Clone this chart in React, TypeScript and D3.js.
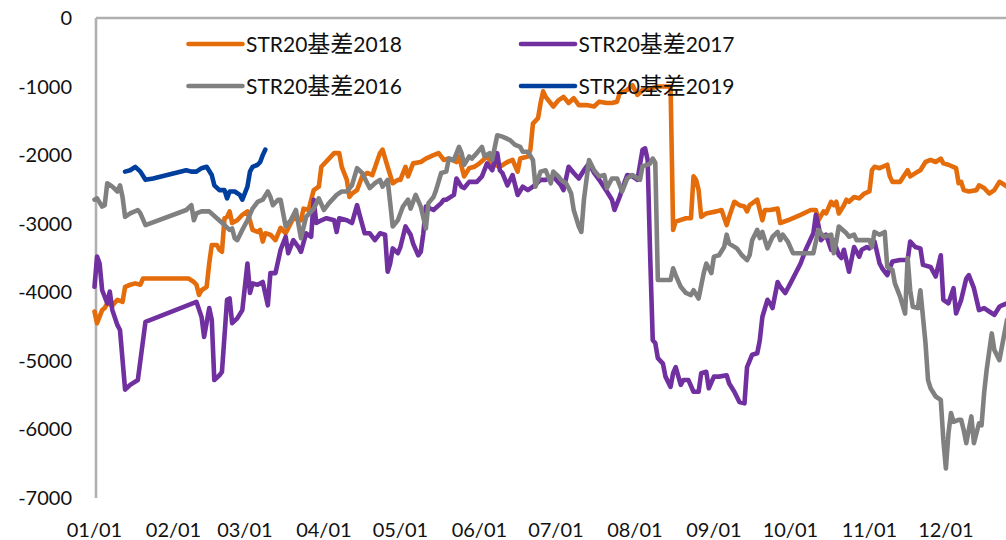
import React, { useEffect, useRef } from 'react';
import * as d3 from 'd3';

// day of year (0 = 01/01) and STR20 basis
const days2018 = [0, 1, 3, 4, 5, 7, 9, 11, 12, 14, 16, 18, 19, 37, 39, 40, 41, 42, 44, 45, 46, 48, 49, 50, 51, 52, 53, 54, 56, 58, 60, 62, 64, 65, 66, 67, 69, 71, 73, 75, 78, 81, 82, 84, 85, 86, 88, 89, 92, 94, 96, 97, 99, 100, 101, 103, 105, 107, 109, 112, 113, 115, 117, 119, 120, 122, 123, 125, 128, 130, 133, 135, 137, 139, 142, 143, 145, 147, 149, 151, 154, 156, 159, 162, 164, 166, 167, 170, 171, 172, 174, 175, 176, 177, 180, 182, 184, 186, 188, 190, 193, 196, 198, 201, 203, 205, 206, 209, 211, 213, 215, 218, 221, 224, 226, 227, 228, 232, 234, 235, 236, 237, 238, 240, 244, 246, 248, 249, 251, 253, 255, 256, 257, 260, 262, 263, 265, 268, 269, 272, 277, 281, 283, 284, 286, 287, 289, 290, 291, 292, 294, 295, 296, 298, 300, 302, 304, 305, 306, 308, 311, 312, 313, 316, 319, 320, 323, 324, 326, 328, 330, 332, 333, 335, 338, 339, 340, 341, 343, 346, 347, 349, 351, 353, 355, 356, 358];
const basis2018 = [-4280, -4450, -4260, -4230, -4160, -4190, -4110, -4140, -3920, -3890, -3870, -3890, -3800, -3800, -3850, -3890, -4040, -3970, -3920, -3580, -3310, -3310, -3380, -3410, -2920, -2900, -2820, -2990, -2950, -2870, -2820, -3090, -3120, -3090, -3260, -3140, -3160, -3240, -3060, -3140, -2920, -2950, -2780, -2800, -2650, -2510, -2460, -2170, -2050, -1970, -1970, -2170, -2360, -2610, -2560, -2510, -2310, -2260, -2290, -1970, -1920, -2170, -2410, -2360, -2360, -2170, -2310, -2120, -2100, -2050, -2000, -1970, -2070, -2050, -2100, -2020, -2310, -2190, -2170, -2120, -2020, -2120, -2170, -2100, -2070, -2240, -2050, -2020, -1920, -1540, -1460, -1240, -1070, -1150, -1290, -1200, -1150, -1240, -1170, -1270, -1270, -1290, -1220, -1240, -1240, -1220, -1100, -1050, -980, -1120, -1050, -1030, -1000, -1000, -1000, -3090, -2970, -2920, -2920, -2310, -2360, -2510, -2900, -2850, -2820, -2800, -3020, -2900, -2680, -2730, -2750, -2820, -2730, -2650, -2950, -2800, -2800, -2780, -2990, -2950, -2870, -2800, -2800, -2950, -2820, -2850, -2680, -2730, -2680, -2850, -2730, -2650, -2680, -2610, -2630, -2560, -2530, -2220, -2170, -2190, -2140, -2310, -2390, -2390, -2220, -2310, -2240, -2220, -2100, -2070, -2100, -2050, -2120, -2140, -2190, -2410, -2390, -2510, -2530, -2510, -2440, -2480, -2560, -2510, -2390, -2410, -2460];

const days2017 = [0, 1, 2, 3, 5, 6, 7, 9, 10, 12, 14, 17, 20, 40, 42, 43, 45, 46, 47, 49, 50, 52, 53, 54, 56, 58, 60, 61, 62, 64, 66, 68, 69, 71, 73, 75, 76, 78, 80, 81, 83, 85, 86, 87, 89, 91, 94, 95, 96, 99, 101, 103, 104, 106, 108, 110, 112, 114, 115, 116, 117, 119, 120, 122, 124, 125, 127, 128, 129, 130, 133, 136, 137, 138, 141, 142, 144, 145, 147, 150, 152, 154, 156, 158, 159, 160, 162, 164, 166, 168, 170, 172, 175, 177, 180, 183, 184, 186, 188, 190, 192, 194, 196, 198, 201, 203, 204, 206, 208, 209, 211, 213, 215, 216, 217, 218, 219, 220, 221, 223, 224, 226, 227, 228, 230, 231, 233, 235, 237, 238, 240, 241, 243, 245, 248, 249, 251, 253, 255, 256, 258, 260, 261, 262, 264, 265, 266, 268, 269, 271, 273, 277, 279, 282, 283, 284, 285, 287, 289, 290, 292, 293, 294, 296, 298, 300, 301, 303, 304, 306, 308, 309, 311, 313, 316, 319, 320, 322, 324, 325, 328, 330, 332, 333, 335, 337, 338, 340, 342, 343, 345, 347, 349, 351, 353, 355, 356, 358];
const basis2017 = [-3920, -3480, -3580, -3970, -4160, -3990, -4260, -4480, -4550, -5420, -5350, -5280, -4430, -4140, -4360, -4650, -4230, -4400, -5280, -5210, -5160, -4110, -4090, -4450, -4380, -4260, -3580, -4010, -3870, -3890, -3850, -4190, -3720, -3720, -3380, -3190, -3430, -3240, -3340, -3410, -3140, -3190, -2650, -2990, -2950, -2920, -2950, -3120, -2920, -2950, -2990, -2730, -2870, -3140, -3140, -3240, -3140, -3160, -3700, -3580, -3360, -3430, -3340, -3040, -3160, -3290, -3460, -3410, -3140, -2750, -2800, -2700, -2650, -2650, -2580, -2340, -2460, -2480, -2390, -2390, -2310, -2120, -2220, -1970, -2220, -2260, -2440, -2290, -2580, -2460, -2510, -2460, -2360, -2360, -2310, -2440, -2510, -2170, -2260, -2340, -2220, -2120, -2260, -2360, -2530, -2650, -2800, -2610, -2390, -2290, -2310, -2360, -1920, -1900, -2070, -3480, -4700, -4740, -4960, -5040, -5230, -5380, -5180, -5090, -5350, -5280, -5280, -5450, -5450, -5180, -5160, -5400, -5230, -5230, -5210, -5330, -5450, -5600, -5620, -5090, -4910, -4890, -4700, -4360, -4110, -4160, -4230, -3850, -3920, -4010, -3870, -3580, -3380, -3140, -2870, -3020, -3240, -3160, -3380, -3240, -3460, -3500, -3380, -3700, -3340, -3480, -3380, -3340, -3360, -3260, -3580, -3650, -3750, -3550, -3530, -3530, -3260, -3340, -3360, -3600, -3630, -3770, -3460, -4110, -4160, -3940, -4310, -4110, -3800, -3750, -3940, -4260, -4230, -4280, -4330, -4210, -4190, -4160];

const days2016 = [0, 1, 3, 4, 5, 7, 9, 10, 11, 12, 14, 17, 18, 20, 36, 38, 39, 40, 42, 45, 48, 51, 53, 54, 55, 56, 58, 60, 62, 64, 66, 68, 69, 70, 72, 73, 75, 77, 79, 81, 83, 86, 88, 90, 92, 95, 97, 99, 101, 103, 105, 107, 108, 110, 112, 113, 115, 117, 119, 121, 123, 124, 126, 128, 130, 131, 133, 134, 136, 138, 139, 141, 143, 144, 145, 147, 148, 150, 152, 153, 155, 156, 158, 160, 163, 165, 167, 168, 170, 172, 173, 175, 177, 179, 180, 182, 183, 185, 186, 187, 188, 190, 191, 192, 193, 194, 196, 198, 200, 201, 203, 205, 207, 209, 211, 214, 215, 217, 218, 219, 220, 221, 226, 227, 228, 230, 232, 234, 235, 237, 239, 240, 242, 243, 245, 247, 248, 249, 252, 254, 256, 257, 258, 260, 261, 262, 264, 266, 268, 269, 270, 272, 274, 282, 284, 286, 289, 290, 291, 292, 295, 296, 298, 299, 302, 304, 305, 306, 308, 310, 311, 313, 314, 316, 318, 319, 320, 321, 323, 324, 326, 327, 328, 330, 332, 333, 334, 335, 336, 337, 339, 340, 341, 342, 344, 345, 347, 348, 349, 350, 352, 353, 355, 356, 358];
const basis2016 = [-2650, -2630, -2750, -2730, -2410, -2460, -2530, -2440, -2610, -2900, -2850, -2800, -2850, -3020, -2800, -2730, -2950, -2850, -2820, -2820, -2920, -3020, -3090, -3070, -3210, -3240, -3090, -2950, -2780, -2680, -2650, -2530, -2610, -2730, -2650, -2650, -3040, -2950, -2800, -3210, -2900, -2780, -2630, -2800, -2700, -2580, -2530, -2530, -2440, -2190, -2260, -2410, -2480, -2410, -2360, -2460, -2360, -3040, -2950, -2750, -2650, -2780, -2580, -2750, -3070, -2700, -2610, -2510, -2260, -2240, -2050, -2070, -1880, -1970, -2140, -2020, -2050, -1970, -1880, -2020, -1970, -2070, -1710, -1730, -1780, -1850, -1880, -1950, -1950, -2070, -2460, -2240, -2220, -2410, -2240, -2310, -2360, -2410, -2480, -2560, -2800, -3040, -3120, -2650, -2360, -2070, -2220, -2310, -2290, -2480, -2340, -2340, -2530, -2340, -2290, -2360, -2160, -2140, -2120, -2050, -2110, -3820, -3820, -3650, -3750, -3920, -4010, -4040, -3970, -4090, -3720, -3580, -3720, -3480, -3460, -3340, -3160, -3290, -3360, -3460, -3530, -3460, -3240, -3090, -3210, -3120, -3360, -3190, -3120, -3240, -3160, -3260, -3430, -3430, -3090, -3190, -3160, -3430, -3260, -3040, -3140, -3190, -3160, -3240, -3240, -3240, -3340, -3120, -3160, -3120, -3630, -3670, -3870, -4060, -4310, -3500, -3970, -4210, -4230, -3970, -4740, -5280, -5400, -5520, -5570, -6150, -6570, -6060, -5760, -5890, -5860, -5860, -6010, -6200, -5810, -6200, -5910, -5940, -5470, -5130, -4600, -4840, -4990, -4790, -4400];

const days2019 = [12, 14, 16, 18, 20, 23, 36, 38, 40, 42, 44, 46, 47, 49, 51, 52, 53, 55, 57, 58, 60, 61, 62, 64, 65, 66, 67];
const basis2019 = [-2240, -2220, -2170, -2240, -2360, -2340, -2220, -2240, -2240, -2190, -2170, -2290, -2440, -2510, -2510, -2630, -2530, -2530, -2580, -2650, -2460, -2240, -2170, -2140, -2100, -2000, -1920];

const monthDays = [0, 31, 59, 90, 120, 151, 181, 212, 243, 273, 304, 334];
const monthLabels = ['01/01', '02/01', '03/01', '04/01', '05/01', '06/01', '07/01', '08/01', '09/01', '10/01', '11/01', '12/01'];
const yTicks = [0, -1000, -2000, -3000, -4000, -5000, -6000, -7000];

// legend order = drawing order
const series = [
  { year: '2018', color: '#e46c0a', days: days2018, values: basis2018 },
  { year: '2017', color: '#7030a0', days: days2017, values: basis2017 },
  { year: '2016', color: '#808080', days: days2016, values: basis2016 },
  { year: '2019', color: '#003f9e', days: days2019, values: basis2019 },
];

const FONT = "Lato, 'Noto Sans CJK SC', sans-serif";

const App = () => {
  const svgRef = useRef(null);
  const width = 1006;
  const height = 540;

  useEffect(() => {
    const svg = d3.select(svgRef.current);
    svg.selectAll('*').remove();

    const x = d3.scaleLinear().domain([0, 365]).range([94.5, 1024.9]);
    const y = d3.scaleLinear().domain([-7000, 0]).range([498, 18]);

    // axes (category axis crosses at 0, so it sits on top)
    svg.append('line')
      .attr('x1', x(0) + 1.5).attr('x2', width)
      .attr('y1', y(0)).attr('y2', y(0))
      .attr('stroke', '#b0b0b0').attr('stroke-width', 2.6);
    svg.append('line')
      .attr('x1', x(0) + 1.5).attr('x2', x(0) + 1.5)
      .attr('y1', y(0)).attr('y2', y(-7000))
      .attr('stroke', '#b0b0b0').attr('stroke-width', 2.6);

    svg.append('g').selectAll('text')
      .data(yTicks)
      .enter()
      .append('text')
      .text(d => d)
      .attr('x', 72)
      .attr('y', d => y(d))
      .attr('dy', '0.35em')
      .attr('text-anchor', 'end')
      .attr('font-family', FONT)
      .attr('font-size', '20px')
      .attr('fill', '#111');

    svg.append('g').selectAll('text')
      .data(monthDays)
      .enter()
      .append('text')
      .text((d, i) => monthLabels[i])
      .attr('x', d => x(d))
      .attr('y', 536.5)
      .attr('text-anchor', 'middle')
      .attr('font-family', FONT)
      .attr('font-size', '20px')
      .attr('fill', '#111');

    const line = d3.line()
      .x(d => x(d[0]))
      .y(d => y(d[1]));

    const g = svg.append('g');
    series.forEach(s => {
      const pts = s.days.map((d, i) => [d, s.values[i]]);
      g.append('path')
        .attr('d', line(pts))
        .attr('fill', 'none')
        .attr('stroke', s.color)
        .attr('stroke-width', 4.6)
        .attr('stroke-linejoin', 'round')
        .attr('stroke-linecap', 'round');
    });

    // legend, 2 columns
    const legX = [188.5, 521];
    const legY = [44, 86];
    series.forEach((s, i) => {
      const lx = legX[i % 2];
      const ly = legY[Math.floor(i / 2)];
      svg.append('line')
        .attr('x1', lx).attr('x2', lx + 54)
        .attr('y1', ly).attr('y2', ly)
        .attr('stroke', s.color).attr('stroke-width', 4.6)
        .attr('stroke-linecap', 'round');
      const t = svg.append('text')
        .attr('x', lx + 57.5)
        .attr('y', ly)
        .attr('dy', '0.36em')
        .attr('font-family', FONT)
        .attr('font-size', '21px')
        .attr('fill', '#111');
      t.append('tspan').text('STR20');
      t.append('tspan').attr('font-size', '23px').text('基差');
      t.append('tspan').text(s.year);
    });
  }, []);

  return (
    <svg ref={svgRef} width={width} height={height}
      style={{ position: 'absolute', left: 0, top: 0, background: '#fff' }} />
  );
};

export default App;
